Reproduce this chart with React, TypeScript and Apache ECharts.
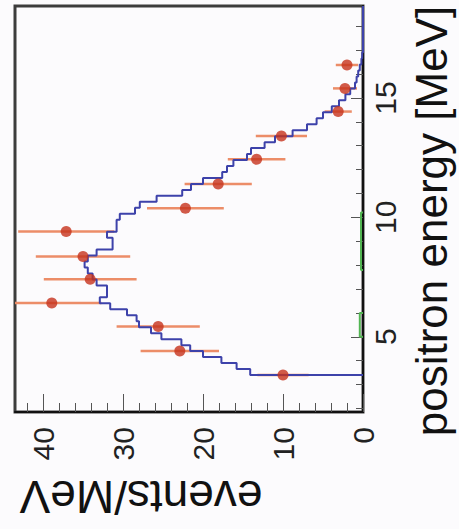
import React, { useEffect, useRef } from "react";
import * as echarts from "echarts";

// Energy axis (vertical, MeV) and events axis (horizontal, events/MeV, reversed)
const energyMin = 1.85;
const energyMax = 18.85;
const eventsMax = 43.5;
const energyLabelValues = [5, 10, 15];
const energyMinorTicks = [2, 3, 4, 6, 7, 8, 9, 11, 12, 13, 14, 16, 17, 18];
const eventsLabelValues = [0, 10, 20, 30, 40];
const eventsMinorTicks = [2, 4, 6, 8, 12, 14, 16, 18, 22, 24, 26, 28, 32, 34, 36, 38, 42];

// Measured data points (energy in MeV, events/MeV, statistical error)
const pointEnergy = [3.4, 4.4, 5.43, 6.41, 7.41, 8.36, 9.41, 10.38, 11.4, 12.43, 13.41, 14.43, 15.4, 16.38];
const pointEvents = [10, 22.9, 25.6, 38.9, 34.1, 35.0, 37.1, 22.2, 18.1, 13.3, 10.2, 3.1, 2.25, 2.0];
const pointError = [3.2, 4.9, 5.2, 6.2, 5.8, 5.9, 6.0, 4.8, 4.2, 3.6, 3.2, 1.7, 1.5, 1.4];

// Expected spectrum histogram (blue), bins of 0.25 MeV from 3.4 MeV
const histStart = 3.4;
const histBinWidth = 0.25;
const histValues = [
  14.1, 15.8, 17.7, 20.0, 21.6, 22.7, 25.2, 26.5, 28.0, 28.3,
  29.5, 31.6, 32.9, 32.0, 32.0, 33.3, 33.8, 34.4, 34.8, 34.4,
  33.3, 31.3, 31.3, 32.0, 30.8, 30.8, 30.4, 28.5, 27.9, 25.8,
  22.6, 21.5, 20.0, 17.6, 17.0, 16.2, 14.5, 14.0, 12.3, 11.0,
  8.8, 7.0, 5.8, 5.0, 3.9, 3.0, 2.2, 1.6, 1.0, 0.8,
  0.6, 0.4, 0.2, 0.1,
];

// Background histogram (green), small segments
const greenStart = [5.0, 7.8];
const greenEnd = [6.0, 10.2];
const greenValue = [0.4, 0.25];

const FONT = "'Liberation Sans', Arial, Helvetica, sans-serif";

export default function App() {
  const ref = useRef<HTMLDivElement>(null);

  useEffect(() => {
    if (!ref.current) return;
    const chart = echarts.init(ref.current, null, { renderer: "svg" });

    const histPts: (number | null)[][] = [[0, histStart]];
    histValues.forEach((v, k) => {
      const e0 = histStart + k * histBinWidth;
      const e1 = e0 + histBinWidth;
      histPts.push([v, e0]);
      histPts.push([v, e1]);
    });
    const histEnd = histStart + histValues.length * histBinWidth;
    histPts.push([0, histEnd]);
    histPts.push([0, energyMax]);

    const greenPts: any[] = [];
    greenStart.forEach((s, i) => {
      greenPts.push([0, s]);
      greenPts.push([greenValue[i], s]);
      greenPts.push([greenValue[i], greenEnd[i]]);
      greenPts.push([0, greenEnd[i]]);
      greenPts.push([null, null]);
    });

    const points = pointEnergy.map((e, i) => [pointEvents[i], e]);
    const bars = pointEnergy.map((e, i) => [pointEvents[i], e, pointError[i]]);

    const option: any = {
      animation: false,
      backgroundColor: "#fcfbfd",
      grid: {
        left: 15,
        right: 96,
        top: 6,
        bottom: 117,
        outerBoundsMode: "none",
        containLabel: false,
        show: true,
        borderColor: "#3c3c3c",
        borderWidth: 3,
        backgroundColor: "transparent",
      },
      xAxis: [
        {
          type: "value",
          position: "bottom",
          inverse: true,
          min: 0,
          max: eventsMax,
          axisLine: { show: true, lineStyle: { color: "#111", width: 2 } },
          axisTick: {
            show: true,
            inside: true,
            length: 18,
            customValues: eventsLabelValues,
            lineStyle: { color: "#555", width: 1 },
          },
          axisLabel: {
            customValues: eventsLabelValues,
            rotate: 90,
            margin: 15,
            fontSize: 30,
            color: "#222",
            fontFamily: FONT,
          },
          splitLine: { show: false },
          name: "events/MeV",
          nameLocation: "middle",
          nameRotate: 180,
          nameGap: 62,
          nameTextStyle: {
            fontSize: 46,
            color: "#111",
            fontFamily: FONT,
            padding: [0, 0, 0, 96],
          },
        },
        {
          type: "value",
          position: "bottom",
          inverse: true,
          min: 0,
          max: eventsMax,
          axisLine: { show: false },
          axisTick: {
            show: true,
            inside: true,
            length: 9,
            customValues: eventsMinorTicks,
            lineStyle: { color: "#555", width: 1 },
          },
          axisLabel: { show: false },
          splitLine: { show: false },
        },
      ],
      yAxis: [
        {
          type: "value",
          position: "right",
          min: energyMin,
          max: energyMax,
          axisLine: { show: true, lineStyle: { color: "#111", width: 2 } },
          axisTick: {
            show: true,
            inside: true,
            length: 12,
            customValues: energyLabelValues,
            lineStyle: { color: "#555", width: 1 },
          },
          axisLabel: {
            customValues: energyLabelValues,
            rotate: 90,
            margin: 7,
            fontSize: 30,
            color: "#222",
            fontFamily: FONT,
          },
          splitLine: { show: false },
          name: "positron energy [MeV]",
          nameLocation: "middle",
          nameRotate: 90,
          nameGap: 46,
          nameTextStyle: {
            fontSize: 44,
            color: "#111",
            fontFamily: FONT,
            padding: [0, 24, 0, 0],
          },
        },
        {
          type: "value",
          position: "right",
          min: energyMin,
          max: energyMax,
          axisLine: { show: false },
          axisTick: {
            show: true,
            inside: true,
            length: 7,
            customValues: energyMinorTicks,
            lineStyle: { color: "#555", width: 1 },
          },
          axisLabel: { show: false },
          splitLine: { show: false },
        },
      ],
      series: [
        {
          type: "custom",
          name: "errors",
          xAxisIndex: 0,
          yAxisIndex: 0,
          z: 2,
          data: bars,
          encode: { x: 0, y: 1 },
          renderItem: (params: any, api: any) => {
            const v = api.value(0);
            const e = api.value(1);
            const err = api.value(2);
            const p1 = api.coord([Math.min(v + err, eventsMax), e]);
            const p2 = api.coord([Math.max(v - err, 0), e]);
            return {
              type: "line",
              shape: { x1: p1[0], y1: p1[1], x2: p2[0], y2: p2[1] },
              style: { stroke: "#ec8d68", lineWidth: 2.5 },
            };
          },
        },
        {
          type: "line",
          name: "background",
          xAxisIndex: 0,
          yAxisIndex: 0,
          z: 3,
          data: greenPts,
          showSymbol: false,
          connectNulls: false,
          lineStyle: { color: "#52b552", width: 2 },
        },
        {
          type: "line",
          name: "expected",
          xAxisIndex: 0,
          yAxisIndex: 0,
          z: 4,
          data: histPts,
          showSymbol: false,
          lineStyle: { color: "#3d42aa", width: 2 },
        },
        {
          type: "scatter",
          name: "data",
          xAxisIndex: 0,
          yAxisIndex: 0,
          z: 5,
          data: points,
          symbol: "circle",
          symbolSize: 11,
          itemStyle: { color: "#c6321c" },
        },
      ],
    };

    chart.setOption(option);
    return () => chart.dispose();
  }, []);

  return (
    <div
      ref={ref}
      style={{ position: "fixed", left: 0, top: 0, width: 459, height: 529 }}
    />
  );
}
